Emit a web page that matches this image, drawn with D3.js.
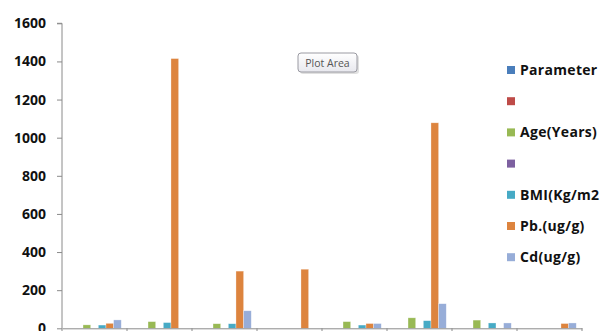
<!DOCTYPE html>
<html>
<head>
<meta charset="utf-8">
<script src="https://cdn.jsdelivr.net/npm/d3@7"></script>
<style>
  html, body { margin: 0; padding: 0; background: #fff; }
  svg { display: block; }
</style>
</head>
<body>
<svg id="chart" width="602" height="331"></svg>
<script>
// ---- data ----
const categories = ["1", "2", "3", "4", "5", "6", "7", "8"];
const seriesNames = ["Parameter", "", "Age(Years)", "", "BMI(Kg/m2", "Pb.(ug/g)", "Cd(ug/g)"];
const seriesColors = ["#4A7EBB", "#BE4B48", "#98B954", "#7D60A0", "#46AAC5", "#DD843E", "#97ADD8"];
const parameterValues = [0, 0, 0, 0, 0, 0, 0, 0];
const blankRedValues = [0, 0, 0, 0, 0, 0, 0, 0];
const ageValues = [18, 35, 24, 0, 35, 55, 43, 0];
const blankPurpleValues = [0, 0, 0, 0, 0, 0, 0, 0];
const bmiValues = [17, 30, 24, 0, 17, 40, 28, 0];
const pbValues = [26, 1415, 300, 310, 25, 1078, 0, 25];
const cdValues = [44, 0, 92, 0, 25, 129, 28, 28];
const yTicks = [0, 200, 400, 600, 800, 1000, 1200, 1400, 1600];

const seriesValues = [parameterValues, blankRedValues, ageValues, blankPurpleValues, bmiValues, pbValues, cdValues];

const svg = d3.select("#chart");

const x0 = d3.scaleBand().domain(categories).range([62, 582]).padding(0);
const x1 = d3.scaleBand().domain(d3.range(seriesNames.length))
  .range([0, x0.bandwidth()]).paddingInner(0).paddingOuter(0.75);
const y = d3.scaleLinear().domain([0, 1600]).range([328.3, 23.3]);

// y axis
const yAxis = d3.axisLeft(y).tickValues(yTicks).tickSize(5).tickPadding(11).tickFormat(d3.format("d"));
const gy = svg.append("g").attr("transform", "translate(62,0)").call(yAxis);
gy.select(".domain").attr("stroke", "#8a8a8a").attr("d", `M-5,${y(1600)}H0V${y(0)}`);
gy.selectAll(".tick line").attr("stroke", "#8a8a8a");
gy.selectAll(".tick text")
  .attr("fill", "#111")
  .style("font-family", "'Open Sans', sans-serif")
  .style("font-weight", "700")
  .style("font-size", "14px");

// bars
const data = [];
categories.forEach((c, ci) => {
  seriesValues.forEach((vals, si) => {
    if (vals[ci] > 0) data.push({ c, si, v: vals[ci] });
  });
});
svg.append("g").selectAll("rect").data(data).join("rect")
  .attr("x", d => x0(d.c) + x1(d.si))
  .attr("width", x1.bandwidth())
  .attr("y", d => y(d.v))
  .attr("height", d => y(0) - y(d.v))
  .attr("fill", d => seriesColors[d.si])
  .attr("stroke", "#ffffff")
  .attr("stroke-opacity", 0.5)
  .attr("stroke-width", 0.6);

// x axis (category labels lie below the visible area in the reference, so none are drawn)
const xAxis = d3.axisBottom(x0).tickSize(0).tickFormat(() => "");
const gx = svg.append("g").attr("transform", `translate(0,${y(0)})`).call(xAxis);
gx.select(".domain").attr("stroke", "#8a8a8a");
svg.append("g").selectAll("line").data(categories.concat(["__end"])).join("line")
  .attr("x1", (d, i) => i < categories.length ? x0(d) : x0(categories[categories.length - 1]) + x0.bandwidth())
  .attr("x2", (d, i) => i < categories.length ? x0(d) : x0(categories[categories.length - 1]) + x0.bandwidth())
  .attr("y1", y(0)).attr("y2", y(0) + 5)
  .attr("stroke", "#8a8a8a");

// legend
const legend = svg.append("g");
const rows = legend.selectAll("g").data(seriesNames).join("g")
  .attr("transform", (d, i) => `translate(507,${70 + i * 31.2})`);
rows.append("rect").attr("x", 0).attr("y", -4).attr("width", 8).attr("height", 8)
  .attr("fill", (d, i) => seriesColors[i]);
rows.append("text").attr("x", 13).attr("y", 5)
  .text(d => d)
  .attr("fill", "#111")
  .style("font-family", "'Open Sans', sans-serif")
  .style("font-weight", "700")
  .style("font-size", "14px")
  .style("letter-spacing", "0.3px");

// "Plot Area" tooltip
const defs = svg.append("defs");
const grad = defs.append("linearGradient").attr("id", "tipg").attr("x1", 0).attr("y1", 0).attr("x2", 0).attr("y2", 1);
grad.append("stop").attr("offset", "0%").attr("stop-color", "#ffffff");
grad.append("stop").attr("offset", "100%").attr("stop-color", "#e8e8ee");
const tip = svg.append("g").attr("transform", "translate(298,53)");
tip.append("rect").attr("x", 2).attr("y", 2).attr("width", 59).attr("height", 19).attr("rx", 3)
  .attr("fill", "#000").attr("opacity", 0.12);
tip.append("rect").attr("x", 0).attr("y", 0).attr("width", 59).attr("height", 19).attr("rx", 3)
  .attr("fill", "url(#tipg)").attr("stroke", "#9a9aa2").attr("stroke-width", 1);
tip.append("text").attr("x", 29.5).attr("y", 13.5).attr("text-anchor", "middle")
  .text("Plot Area")
  .attr("fill", "#555")
  .style("font-family", "'Open Sans', sans-serif")
  .style("font-size", "10.5px");
</script>
</body>
</html>
